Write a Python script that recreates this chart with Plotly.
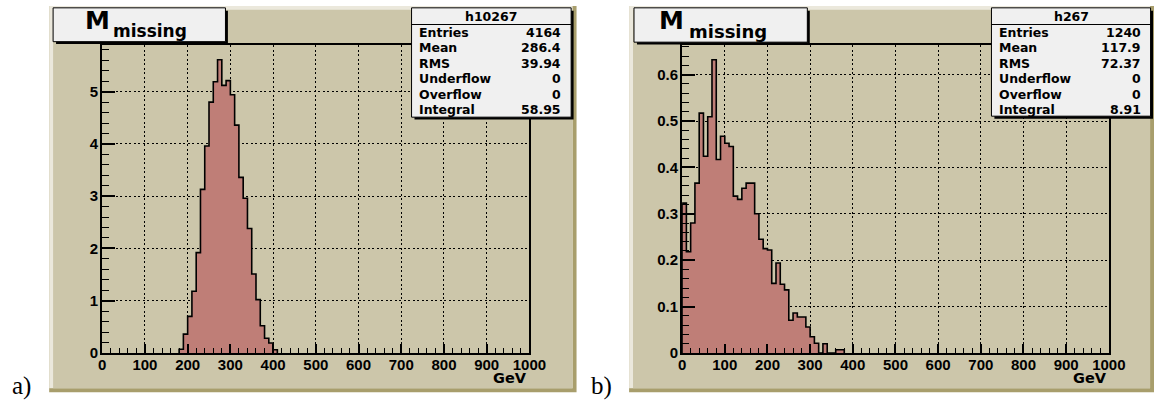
import plotly.graph_objects as go

# ---------------------------------------------------------------------------
# Histogram contents (10 GeV bins), read per bin
# ---------------------------------------------------------------------------
bin_width = 10.0

a_first_edge = 180.0
a_contents = [0.07, 0.36, 0.70, 1.18, 1.92, 3.13, 3.96, 4.80, 5.19, 5.61,
              5.12, 5.21, 4.94, 4.36, 3.36, 2.96, 2.38, 1.51, 1.02, 0.52,
              0.28, 0.19, 0.06]

b_first_edge = 0.0
b_contents = [0.323, 0.218, 0.280, 0.366, 0.517, 0.424, 0.509, 0.632, 0.417, 0.467,
              0.452, 0.445, 0.338, 0.331, 0.355, 0.366, 0.366, 0.300, 0.245, 0.225,
              0.222, 0.150, 0.194, 0.148, 0.136, 0.0705, 0.086, 0.0775, 0.0775, 0.056,
              0.035, 0.021, 0.0, 0.020, 0.0, 0.0, 0.007, 0.007]

x_range = [0, 1000]
x_tick_vals = [0, 100, 200, 300, 400, 500, 600, 700, 800, 900, 1000]
x_tick_text = ["0", "100", "200", "300", "400", "500", "600", "700", "800", "900", "1000"]
x_minor_step = 20
a_y_tick_vals = [0, 1, 2, 3, 4, 5]
a_y_tick_text = ["0", "1", "2", "3", "4", "5"]
a_y_minor = 0.2
b_y_tick_vals = [0, 0.1, 0.2, 0.3, 0.4, 0.5, 0.6]
b_y_tick_text = ["0", "0.1", "0.2", "0.3", "0.4", "0.5", "0.6"]
b_y_minor = 0.02

hist_names = ["h10267", "h267"]
stat_labels = ["Entries", "Mean", "RMS", "Underflow", "Overflow", "Integral"]
a_stat_values = ["4164", "286.4", "39.94", "0", "0", "58.95"]
b_stat_values = ["1240", "117.9", "72.37", "0", "0", "8.91"]
panel_tags = ["a)", "b)"]
x_title = "GeV"

# ---------------------------------------------------------------------------
# Styling
# ---------------------------------------------------------------------------
W, H = 1171, 409
CANVAS = "#ccc6aa"
BEVEL_LIGHT = "#ebe8dc"
BEVEL_DARK = "#a89e6c"
HIST_FILL = "#bf7e77"
BOX_FILL = "#f0f0f0"
SANS = "DejaVu Sans"
TICK_FONT = "Liberation Sans"


def px(x):
    return x / W


def py(y):
    return 1 - y / H


def bold(labels):
    return ["<b>%s</b>" % s for s in labels]


def step_outline(first_edge, contents):
    edges = [first_edge + i * bin_width for i in range(len(contents) + 1)]
    xs = [edges[0]] + edges[:len(contents)] + [edges[-1]]
    ys = [0.0] + list(contents) + [0.0]
    return xs, ys


# pixel geometry of the two pads: frame (plot area), canvas, title box, stats box
pads = [
    dict(frame=(100, 46, 535, 360), canvas=(46, 6, 583, 400),
         title=(50, 8, 225.5, 42.5), m_x=80, sub_x=109, sub_size=17,
         stats=(415, 8, 577.5, 119.5), tag_x=6),
    dict(frame=(690.5, 46, 1125, 360), canvas=(636.5, 6, 1171, 400),
         title=(641.5, 8, 818, 43), m_x=665, sub_x=695, sub_size=18,
         stats=(1005.5, 8, 1167.5, 118.5), tag_x=596),
]

fig = go.Figure()
shapes = []
annotations = []

contents_list = [a_contents, b_contents]
first_edges = [a_first_edge, b_first_edge]
y_ticks = [(a_y_tick_vals, a_y_tick_text, a_y_minor),
           (b_y_tick_vals, b_y_tick_text, b_y_minor)]
stat_values = [a_stat_values, b_stat_values]

for i, pad in enumerate(pads):
    n = "" if i == 0 else str(i + 1)
    xs, ys = step_outline(first_edges[i], contents_list[i])
    fig.add_trace(go.Scatter(
        x=xs, y=ys, mode="lines", line=dict(shape="hv", color="black", width=1.6),
        fill="tozeroy", fillcolor=HIST_FILL, hoverinfo="skip", showlegend=False,
        xaxis="x" + n, yaxis="y" + n))

    fx0, fy0, fx1, fy1 = pad["frame"]
    ymax = 1.05 * max(contents_list[i])
    yvals, ytext, yminor = y_ticks[i]
    common = dict(
        ticks="inside", tickcolor="black", tickwidth=2,
        showgrid=True, gridcolor="black", gridwidth=1, griddash="2px,2.5px",
        showline=True, linecolor="black", linewidth=2, mirror=True,
        zeroline=False,
        tickfont=dict(family=TICK_FONT, size=15, color="black"),
    )
    fig.update_layout(**{
        "xaxis" + n: dict(
            domain=[px(fx0), px(fx1)], anchor="y" + n, range=x_range,
            tickmode="array", tickvals=x_tick_vals, ticktext=bold(x_tick_text),
            ticklen=9, ticklabelstandoff=-3,
            minor=dict(ticks="inside", tick0=0, dtick=x_minor_step, ticklen=5,
                       tickwidth=1, tickcolor="black"),
            **common),
        "yaxis" + n: dict(
            domain=[py(fy1), py(fy0)], anchor="x" + n, range=[0, ymax],
            tickmode="array", tickvals=yvals, ticktext=bold(ytext),
            ticklen=13, ticklabelstandoff=-1,
            minor=dict(ticks="inside", tick0=0, dtick=yminor, ticklen=7,
                       tickwidth=1, tickcolor="black"),
            **common),
    })

    # canvas with bevelled border
    cx0, cy0, cx1, cy1 = pad["canvas"]
    shapes.append(dict(type="rect", xref="paper", yref="paper", layer="below",
                       x0=px(cx0), x1=px(cx1), y0=py(cy1), y1=py(cy0),
                       fillcolor=BEVEL_DARK, line=dict(width=0)))
    shapes.append(dict(type="rect", xref="paper", yref="paper", layer="below",
                       x0=px(cx0), x1=px(cx1 - 4), y0=py(cy1 - 4), y1=py(cy0),
                       fillcolor=BEVEL_LIGHT, line=dict(width=0)))
    shapes.append(dict(type="rect", xref="paper", yref="paper", layer="below",
                       x0=px(cx0 + 4), x1=px(cx1 - 4), y0=py(cy1 - 4), y1=py(cy0 + 4),
                       fillcolor=CANVAS, line=dict(width=0)))

    # title pave and stats pave, each with a drop shadow
    for key in ("title", "stats"):
        bx0, by0, bx1, by1 = pad[key]
        shapes.append(dict(type="rect", xref="paper", yref="paper", layer="above",
                           x0=px(bx0 + 3), x1=px(bx1 + 2.5), y0=py(by1 + 2.5), y1=py(by0 + 3),
                           fillcolor="black", line=dict(width=0)))
        shapes.append(dict(type="rect", xref="paper", yref="paper", layer="above",
                           x0=px(bx0), x1=px(bx1), y0=py(by1), y1=py(by0),
                           fillcolor=BOX_FILL, line=dict(color="black", width=1)))

    # title text: M with subscript "missing"
    annotations.append(dict(xref="paper", yref="paper", x=px(pad["m_x"]), y=py(21),
                            xanchor="left", yanchor="middle", showarrow=False,
                            text="<b>M</b>", font=dict(family=SANS, size=25, color="black")))
    annotations.append(dict(xref="paper", yref="paper", x=px(pad["sub_x"]), y=py(32),
                            xanchor="left", yanchor="middle", showarrow=False,
                            text="<b>missing</b>",
                            font=dict(family=SANS, size=pad["sub_size"], color="black")))

    # stats pave contents
    sx0, sy0, sx1, sy1 = pad["stats"]
    shapes.append(dict(type="line", xref="paper", yref="paper", layer="above",
                       x0=px(sx0), x1=px(sx1), y0=py(25), y1=py(25),
                       line=dict(color="black", width=1)))
    stat_font = dict(family=SANS, size=12.5, color="black")
    annotations.append(dict(xref="paper", yref="paper", x=px((sx0 + sx1) / 2), y=py(16.5),
                            xanchor="center", yanchor="middle", showarrow=False,
                            text="<b>%s</b>" % hist_names[i], font=stat_font))
    for r, (lab, val) in enumerate(zip(stat_labels, stat_values[i])):
        yc = 33 + r * 15.8
        annotations.append(dict(xref="paper", yref="paper", x=px(sx0 + 6), y=py(yc),
                                xanchor="left", yanchor="middle", showarrow=False,
                                text="<b>%s</b>" % lab, font=stat_font))
        annotations.append(dict(xref="paper", yref="paper", x=px(sx1 - 8), y=py(yc),
                                xanchor="right", yanchor="middle", showarrow=False,
                                text="<b>%s</b>" % val, font=stat_font))

    # axis title at the end of the x axis
    annotations.append(dict(xref="paper", yref="paper", x=px(fx1), y=py(386),
                            xanchor="right", yanchor="middle", showarrow=False,
                            text="<b>%s</b>" % x_title,
                            font=dict(family=SANS, size=14.5, color="black")))

    # panel tag
    annotations.append(dict(xref="paper", yref="paper", x=px(pad["tag_x"]), y=py(394),
                            xanchor="left", yanchor="middle", showarrow=False,
                            text=panel_tags[i],
                            font=dict(family="Liberation Serif", size=25, color="black")))

fig.update_layout(
    width=W, height=H, autosize=False,
    margin=dict(l=0, r=0, t=0, b=0, pad=0),
    paper_bgcolor="white", plot_bgcolor=CANVAS,
    shapes=shapes, annotations=annotations, showlegend=False,
)

fig.write_html("out.html")
